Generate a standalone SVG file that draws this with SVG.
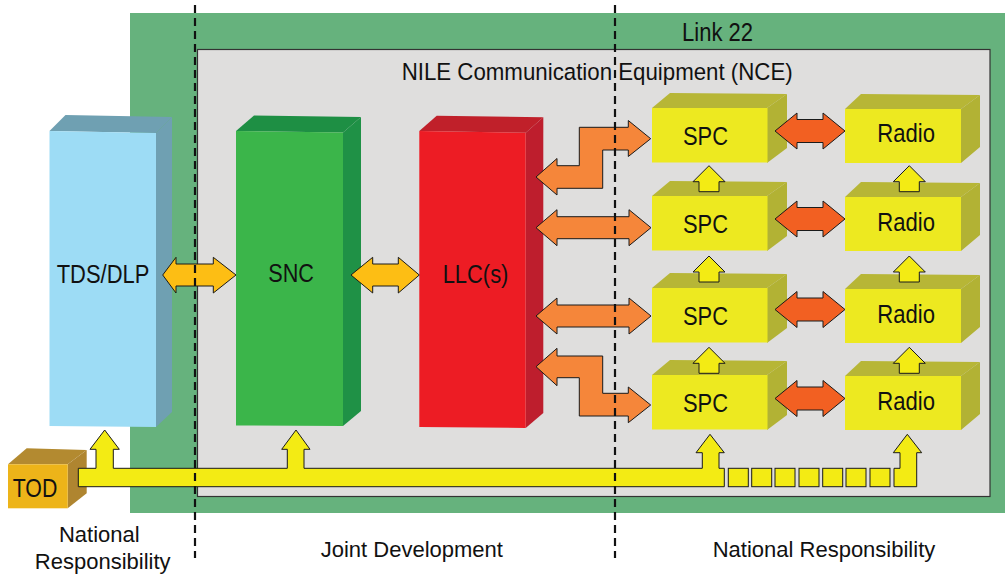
<svg xmlns="http://www.w3.org/2000/svg" width="1005" height="576" viewBox="0 0 1005 576">
<style>
.lbl{font-family:"Liberation Sans",Arial,sans-serif;fill:#111;}
.big{font-size:26px;}
.bot{font-size:22px;}
.ln{stroke:#1a1a1a;stroke-width:1;stroke-linejoin:miter;}
.yel{fill:#F3EB14;}
.gold{fill:#FDBE14;}
.org{fill:#F5863A;}
.red{fill:#F26022;}
.dash{stroke:#111;stroke-width:2.2;stroke-dasharray:8 5;fill:none;}
.yf{fill:#EDE920;}
.yt{fill:#B7B636;}
.ys{fill:#B2B234;}
</style>
<defs>
<path id="redArrow" d="M775,0 L797,-18 L797,-11.5 L823,-11.5 L823,-18 L845,0 L823,18 L823,11.5 L797,11.5 L797,18 Z"/>
<path id="orgArrow" d="M536,0 L557,-18 L557,-11 L629,-11 L629,-18 L651,0 L629,18 L629,11 L557,11 L557,18 Z"/>
<path id="upArrow" d="M0,0 L16,16 L10,16 L10,26 L-10,26 L-10,16 L-16,16 Z"/>
<g id="spcBox">
<polygon class="yt" points="652,0 670,-15 787,-14 767,0"/>
<polygon class="ys" points="767,0 787,-14 787,40 767,55"/>
<rect class="yf" x="652" y="0" width="115.5" height="54.5"/>
</g>
<g id="radioBox">
<polygon class="yt" points="845,0 861,-15 980,-14 961,0"/>
<polygon class="ys" points="961,0 980,-14 980,38 961,54"/>
<rect class="yf" x="845" y="0" width="116" height="54"/>
</g>
</defs>

<rect id="link22" x="130" y="13" width="875" height="500" fill="#66B27D"/>
<rect id="nce" x="197.5" y="49.5" width="792.5" height="447" fill="#DFDEDD" stroke="#333" stroke-width="1.2"/>
<text class="lbl big" x="682" y="41" textLength="71" lengthAdjust="spacingAndGlyphs">Link 22</text>
<text class="lbl" font-size="24.5" x="401.7" y="80" textLength="391" lengthAdjust="spacingAndGlyphs">NILE Communication Equipment (NCE)</text>

<g id="tds">
<polygon fill="#6FA0B2" points="49.5,131 65.5,115 172,117 156,133"/>
<polygon fill="#6FA0B2" points="156,133 172,117 172,412 156,427"/>
<polygon fill="#9DDCF5" points="49.5,131 156,133 156,427 49.5,426"/>
<text class="lbl big" x="56.7" y="282.7" textLength="92.7" lengthAdjust="spacingAndGlyphs">TDS/DLP</text>
</g>
<g id="snc">
<polygon fill="#1E8F44" points="236,131 254,115.5 361,117 343,132.5"/>
<polygon fill="#1F9146" points="343,132.5 361,117 361,411 343,426"/>
<polygon fill="#3BB54A" points="236,131 343,132.5 343,426 236,425.5"/>
<text class="lbl big" x="268.3" y="281.7" textLength="45.7" lengthAdjust="spacingAndGlyphs">SNC</text>
</g>
<g id="llc">
<polygon fill="#C0202A" points="419.3,131 436.7,115.7 543.3,117.3 525.7,132.7"/>
<polygon fill="#BE1E2D" points="525.7,132.7 543.3,117.3 543.3,413 525.7,428"/>
<polygon fill="#ED1C24" points="419.3,131 525.7,132.7 525.7,428 419.3,427"/>
<text class="lbl big" x="442.7" y="282.7" textLength="65.7" lengthAdjust="spacingAndGlyphs">LLC(s)</text>
</g>

<g id="spc1"><use href="#spcBox" transform="translate(0,108)"/><text class="lbl big" x="683" y="145" textLength="45" lengthAdjust="spacingAndGlyphs">SPC</text></g>
<g id="spc2"><use href="#spcBox" transform="translate(0,196)"/><text class="lbl big" x="683" y="233.3" textLength="45" lengthAdjust="spacingAndGlyphs">SPC</text></g>
<g id="spc3"><use href="#spcBox" transform="translate(0,288)"/><text class="lbl big" x="683" y="325" textLength="45" lengthAdjust="spacingAndGlyphs">SPC</text></g>
<g id="spc4"><use href="#spcBox" transform="translate(0,375)"/><text class="lbl big" x="683" y="412" textLength="45" lengthAdjust="spacingAndGlyphs">SPC</text></g>

<g id="radio1"><use href="#radioBox" transform="translate(0,109)"/><text class="lbl big" x="877.3" y="142.3" textLength="57.7" lengthAdjust="spacingAndGlyphs">Radio</text></g>
<g id="radio2"><use href="#radioBox" transform="translate(0,197)"/><text class="lbl big" x="877.3" y="230.5" textLength="57.7" lengthAdjust="spacingAndGlyphs">Radio</text></g>
<g id="radio3"><use href="#radioBox" transform="translate(0,289)"/><text class="lbl big" x="877.3" y="322.5" textLength="57.7" lengthAdjust="spacingAndGlyphs">Radio</text></g>
<g id="radio4"><use href="#radioBox" transform="translate(0,376)"/><text class="lbl big" x="877.3" y="409.5" textLength="57.7" lengthAdjust="spacingAndGlyphs">Radio</text></g>

<g id="tod">
<polygon fill="#B38A30" points="8,464.3 26.7,448.3 86.7,450 67.7,464.3"/>
<polygon fill="#AF8530" points="67.7,464.3 86.7,450 86.7,493.3 67.7,508.3"/>
<rect x="8" y="464.3" width="59.7" height="44" fill="#EDB419"/>
<text class="lbl big" x="12.7" y="497.3" textLength="44.6" lengthAdjust="spacingAndGlyphs">TOD</text>
</g>

<g id="connectors" class="ln">
<path class="gold" d="M162.7,275 L176,257.3 L176,264 L213.3,264 L213.3,257.3 L236,275 L213.3,293 L213.3,286 L176,286 L176,293 Z"/>
<path class="gold" d="M351,275 L372.7,257.3 L372.7,264 L398.3,264 L398.3,257.3 L419.3,275 L398.3,293 L398.3,286 L372.7,286 L372.7,293 Z"/>
<path class="org" d="M536,177 L557,158.5 L557,165.7 L579.3,165.7 L579.3,127.3 L628.3,127.3 L628.3,120.5 L650.7,138.7 L628.3,156.5 L628.3,150 L602.7,150 L602.7,188.3 L557,188.3 L557,195 Z"/>
<use href="#orgArrow" class="org" transform="translate(0,227.7)"/>
<use href="#orgArrow" class="org" transform="translate(0,316)"/>
<path class="org" d="M536,366.7 L557,348.3 L557,356 L602.7,356 L602.7,393.3 L628.3,393.3 L628.3,387 L650.7,405 L628.3,422.7 L628.3,416 L579.3,416 L579.3,377.7 L557,377.7 L557,385.7 Z"/>
<use href="#redArrow" class="red" transform="translate(0,131)"/>
<use href="#redArrow" class="red" transform="translate(0,219)"/>
<use href="#redArrow" class="red" transform="translate(0,309.5)"/>
<use href="#redArrow" class="red" transform="translate(0,398.5)"/>
<use href="#upArrow" class="yel" transform="translate(709,165.7)"/>
<use href="#upArrow" class="yel" transform="translate(709,256)"/>
<use href="#upArrow" class="yel" transform="translate(709,347.3)"/>
<use href="#upArrow" class="yel" transform="translate(909.3,165.7)"/>
<use href="#upArrow" class="yel" transform="translate(909.3,256)"/>
<use href="#upArrow" class="yel" transform="translate(909.3,347.3)"/>
<path class="yel" d="M78.3,468.3 L96,468.3 L96,449.3 L90,449.3 L104.7,430 L119.3,449.3 L113.3,449.3 L113.3,468.3 L287.3,468.3 L287.3,449.3 L281.7,449.3 L296,430 L310,449.3 L304,449.3 L304,468.3 L702.3,468.3 L702.3,452.7 L696,452.7 L710,434.3 L724.3,452.7 L719,452.7 L719,468.3 L724.3,468.3 L724.3,486.7 L78.3,486.7 Z"/>
<rect class="yel" x="728.3" y="468.3" width="20" height="18.4"/>
<rect class="yel" x="751.7" y="468.3" width="20" height="18.4"/>
<rect class="yel" x="775" y="468.3" width="20" height="18.4"/>
<rect class="yel" x="799" y="468.3" width="20" height="18.4"/>
<rect class="yel" x="822.7" y="468.3" width="20" height="18.4"/>
<rect class="yel" x="846" y="468.3" width="20" height="18.4"/>
<rect class="yel" x="870" y="468.3" width="20" height="18.4"/>
<path class="yel" d="M894,468.3 L900,468.3 L900,452.7 L893.3,452.7 L907.3,434.3 L921.7,452.7 L916.7,452.7 L916.7,486.7 L894,486.7 Z"/>
</g>

<line class="dash" x1="195" y1="5" x2="195" y2="558"/>
<line class="dash" x1="615" y1="5" x2="615" y2="558"/>

<text class="lbl bot" x="99.3" y="542.3" text-anchor="middle">National</text>
<text class="lbl bot" x="102.7" y="569" text-anchor="middle">Responsibility</text>
<text class="lbl bot" x="320.7" y="556.7">Joint Development</text>
<text class="lbl bot" x="712.7" y="556.7">National Responsibility</text>
</svg>
